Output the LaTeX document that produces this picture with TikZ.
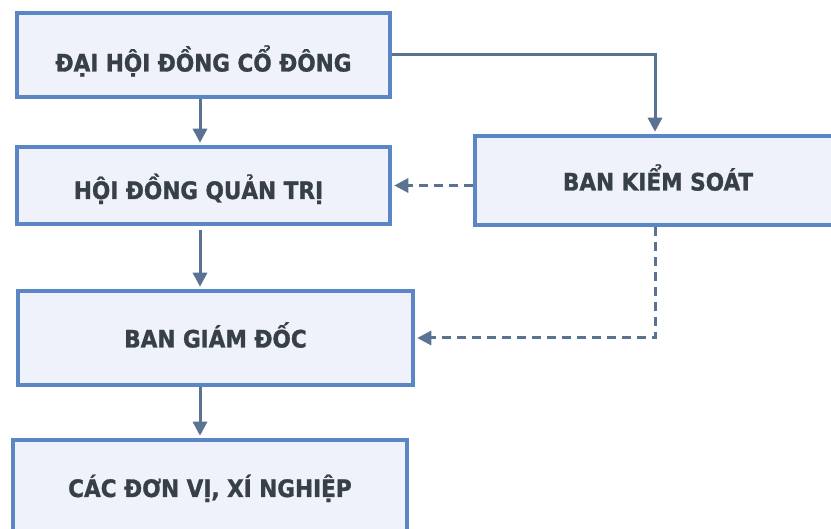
\documentclass[tikz,border=0pt]{standalone}
\usepackage{fontspec}
\setmainfont{DejaVu Sans}
\newfontfamily\condfont[FakeBold=1.2]{DejaVu Sans Condensed Bold}
\usetikzlibrary{arrows.meta}
\definecolor{boxline}{HTML}{5B86C6}
\definecolor{boxfill}{HTML}{EFF2FA}
\definecolor{arrcol}{HTML}{5A7393}
\definecolor{txtcol}{HTML}{373F47}
\tikzset{
  orgbox/.style={draw=boxline, fill=boxfill, line width=4.5pt, rectangle, inner sep=0pt,
    text height=17pt, text depth=0pt,
    text=txtcol, font=\condfont\fontsize{24}{28}\selectfont},
  arr/.style={draw=arrcol, line width=3pt, -{Triangle[width=14pt,length=14pt]}},
  dsh/.style={arr, dash pattern=on 9pt off 6pt}
}
\begin{document}
\begin{tikzpicture}[x=1pt,y=1pt]
\useasboundingbox (0,0) rectangle (831,-529);
\fill[white] (0,0) rectangle (831,-529);
\begin{scope}
\clip (0,0) rectangle (831,-529);
\node[orgbox, minimum width=373pt, minimum height=84pt] (b1) at (203.5,-55) {\raisebox{-8pt}{ĐẠI HỘI ĐỒNG CỔ ĐÔNG}};
\node[orgbox, minimum width=373pt, minimum height=77pt] (b2) at (203.5,-185.5) {\raisebox{-5pt}{\hspace*{-10pt}HỘI ĐỒNG QUẢN TRỊ}};
\node[orgbox, minimum width=366pt, minimum height=89pt] (b3) at (658,-180.5) {\raisebox{-1.5pt}{BAN KIỂM SOÁT}};
\node[orgbox, minimum width=395pt, minimum height=94pt] (b4) at (215.5,-338) {\raisebox{-1pt}{BAN GIÁM ĐỐC}};
\node[orgbox, minimum width=394pt, minimum height=95pt] (b5) at (210,-487.5) {\raisebox{-1pt}{CÁC ĐƠN VỊ, XÍ NGHIỆP}};
\coordinate (axis) at (200,0);
\coordinate (raxis) at (655,0);
\draw[arr, shorten >=2pt] (b1.south -| axis) -- (b2.north -| axis);
\draw[arr, shorten <=4pt, shorten >=2pt] (b2.south -| axis) -- (b4.north -| axis);
\draw[arr, shorten >=2pt] (b4.south -| axis) -- (b5.north -| axis);
\draw[arr, shorten >=2pt] (b1.east) -| (b3.north -| raxis);
\draw[dsh, shorten >=2pt] (b3.west |- b2.east) -- (b2.east);
\draw[dsh, shorten >=2pt] (b3.south -| raxis) |- (b4.east);
\end{scope}
\end{tikzpicture}
\end{document}
